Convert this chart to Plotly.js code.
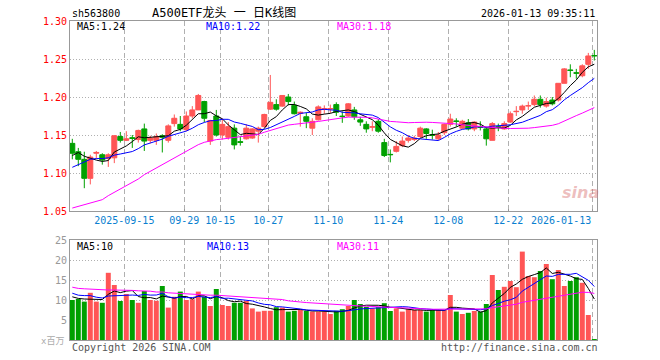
<!DOCTYPE html>
<html><head><meta charset="utf-8">
<script src="https://cdn.plot.ly/plotly-3.0.1.min.js"></script>
<style>html,body{margin:0;padding:0;background:#fff}#c{width:660px;height:360px}</style>
</head><body><div id="c"></div>
<script>
// ---- data ----
const openP  = [1.139,1.128,1.118,1.093,1.126,1.124,1.119,1.120,1.148,1.143,
                1.1465,1.144,1.158,1.143,1.143,1.149,1.143,1.165,1.164,1.157,
                1.175,1.183,1.194,1.142,1.175,1.150,1.147,1.159,1.1412,1.145,
                1.146,1.155,1.161,1.184,1.190,1.188,1.200,1.189,1.1785,1.174,
                1.159,1.170,1.1838,1.1842,1.190,1.1748,1.175,1.183,1.170,1.164,
                1.1603,1.168,1.140,1.1245,1.1285,1.136,1.143,1.144,1.148,1.158,
                1.1502,1.145,1.153,1.164,1.1684,1.159,1.166,1.158,1.1607,1.158,
                1.143,1.1607,1.158,1.167,1.1807,1.183,1.1882,1.190,1.197,1.188,
                1.196,1.196,1.218,1.2355,1.2318,1.228,1.243,1.2546];
const highP  = [1.145,1.133,1.128,1.124,1.129,1.126,1.126,1.150,1.154,1.155,
                1.150,1.157,1.165,1.149,1.152,1.151,1.164,1.177,1.175,1.181,
                1.188,1.204,1.195,1.170,1.183,1.172,1.167,1.164,1.148,1.164,
                1.159,1.161,1.178,1.229,1.197,1.202,1.204,1.194,1.181,1.179,
                1.172,1.189,1.189,1.190,1.193,1.181,1.192,1.187,1.174,1.168,
                1.168,1.171,1.145,1.131,1.142,1.148,1.150,1.149,1.161,1.159,
                1.157,1.154,1.165,1.178,1.172,1.170,1.171,1.168,1.168,1.161,
                1.167,1.165,1.168,1.181,1.188,1.190,1.194,1.202,1.202,1.199,
                1.200,1.218,1.238,1.243,1.237,1.243,1.258,1.262];
const lowP   = [1.118,1.109,1.080,1.085,1.119,1.111,1.108,1.113,1.140,1.142,
                1.133,1.140,1.129,1.139,1.137,1.127,1.140,1.161,1.155,1.155,
                1.172,1.183,1.167,1.137,1.148,1.144,1.144,1.131,1.136,1.144,
                1.145,1.140,1.160,1.183,1.182,1.187,1.189,1.177,1.161,1.159,
                1.150,1.169,1.178,1.179,1.175,1.166,1.174,1.170,1.162,1.153,
                1.155,1.153,1.121,1.114,1.127,1.134,1.140,1.142,1.146,1.145,
                1.144,1.143,1.150,1.161,1.161,1.158,1.156,1.155,1.156,1.136,
                1.143,1.155,1.157,1.166,1.175,1.178,1.183,1.188,1.186,1.186,
                1.189,1.194,1.218,1.226,1.224,1.226,1.237,1.248];
const closeP = [1.126,1.118,1.093,1.121,1.127,1.117,1.124,1.149,1.143,1.145,
                1.1455,1.156,1.142,1.146,1.148,1.147,1.162,1.172,1.158,1.175,
                1.183,1.202,1.172,1.169,1.150,1.164,1.161,1.137,1.1404,1.159,
                1.158,1.159,1.177,1.193,1.184,1.202,1.194,1.178,1.1798,1.168,
                1.168,1.187,1.1846,1.1848,1.180,1.1744,1.191,1.174,1.167,1.158,
                1.1608,1.155,1.123,1.1241,1.135,1.142,1.146,1.146,1.159,1.152,
                1.1498,1.150,1.164,1.171,1.168,1.168,1.158,1.167,1.1603,1.145,
                1.165,1.1603,1.165,1.178,1.1811,1.188,1.1886,1.197,1.190,1.194,
                1.191,1.218,1.237,1.235,1.2314,1.241,1.254,1.2542];
// volume, millions
const volume = [10.0,10.25,9.6,11.8,9.6,9.3,16.8,13.75,9.75,11.5,
                10.0,9.3,12.25,10.0,9.8,13.5,8.1,10.8,12.1,10.0,
                10.2,12.1,10.8,8.5,12.75,8.75,8.5,9.3,9.3,9.75,
                7.9,7.1,7.3,7.3,8.2,8.1,7.1,7.3,7.5,7.25,
                7.1,7.1,7.1,6.5,7.3,7.7,8.5,10.0,9.0,8.3,
                7.9,8.2,9.2,7.25,7.9,7.1,7.7,7.5,7.5,7.1,
                7.5,7.5,7.5,11.25,7.1,6.5,6.8,7.25,7.1,9.0,
                16.25,12.5,13.3,14.75,13.2,22.1,16.0,15.7,17.25,19.0,
                15.2,17.5,13.5,14.75,15.7,14.3,6.25,0.25];
// moving-average values before enough history is visible
const priceMa5Head  = [1.123,1.127,1.122,1.119];
const priceMa10Head = [1.1075,1.111,1.114,1.118,1.119,1.119,1.120,1.1235,1.125];
const priceMa30Head = [1.0539,1.0561,1.0579,1.0596,1.0618,1.0649,1.0702,1.0746,1.079,1.0833,
                       1.0877,1.0921,1.0978,1.1022,1.1066,1.111,1.1154,1.1197,1.1241,1.1285,
                       1.1329,1.1373,1.1404,1.1425,1.1439,1.1447,1.1456,1.1469,1.1474];
const volMa5Head  = [10.8,10.4,10.25,10.25];
const volMa10Head = [11.7,11.2,11.1,11.1,10.7,10.5,11.0,11.1,11.2];
const volMa30Head = [13.2,12.9,12.8,12.7,12.6,12.5,12.5,12.5,12.5,12.5,
                     12.4,12.3,12.3,12.2,12.0,12.0,11.8,11.7,11.6,11.5,
                     11.5,11.4,11.3,11.2,11.2,11.1,11.0,10.9,10.8];
const tickIdx    = [9,19,25,33,43,53,63,73,87];
const tickLabels = ['2025-09-15','09-29','10-15','10-27','11-10','11-24','12-08','12-22','2026-01-13'];
const priceTicks = [1.05,1.10,1.15,1.20,1.25,1.30];
const volTicks   = [0,5,10,15,20,25];
const volTickText= ['','5','10','15','20','25'];
const legendPrice = ['MA5:1.24','MA10:1.22','MA30:1.18'];
const legendVol   = ['MA5:10','MA10:13','MA30:11'];

// ---- derived ----
const idx = closeP.map((_, i) => i);
function ma(arr, n, head) {
  return arr.map((v, i) => {
    if (i < n - 1) return head[i];
    let s = 0; for (let k = i - n + 1; k <= i; k++) s += arr[k];
    return s / n;
  });
}
const RED = '#ff5555', GREEN = '#00a000';
const volColors = closeP.map((c, i) => c >= openP[i] ? RED : GREEN);
const gridX = tickIdx.map(v => v - 0.33);
const MONO = 'DejaVu Sans Mono, monospace';

const traces = [
  {type:'candlestick', x: idx, open: openP, high: highP, low: lowP, close: closeP,
   xaxis:'x', yaxis:'y', whiskerwidth: 0, hoverinfo:'skip',
   increasing:{line:{color:RED,width:1}, fillcolor:RED},
   decreasing:{line:{color:GREEN,width:1}, fillcolor:GREEN}},
  {type:'scatter', mode:'lines', x: idx, y: ma(closeP,5,priceMa5Head), xaxis:'x', yaxis:'y', line:{color:'#000',width:1}},
  {type:'scatter', mode:'lines', x: idx, y: ma(closeP,10,priceMa10Head), xaxis:'x', yaxis:'y', line:{color:'#0000ff',width:1}},
  {type:'scatter', mode:'lines', x: idx, y: ma(closeP,30,priceMa30Head), xaxis:'x', yaxis:'y', line:{color:'#ff00ff',width:1}},
  {type:'bar', x: idx, y: volume, xaxis:'x2', yaxis:'y2', width: 0.83, marker:{color: volColors, line:{width:0}}},
  {type:'scatter', mode:'lines', x: idx, y: ma(volume,5,volMa5Head), xaxis:'x2', yaxis:'y2', line:{color:'#000',width:1}},
  {type:'scatter', mode:'lines', x: idx, y: ma(volume,10,volMa10Head), xaxis:'x2', yaxis:'y2', line:{color:'#0000ff',width:1}},
  {type:'scatter', mode:'lines', x: idx, y: ma(volume,30,volMa30Head), xaxis:'x2', yaxis:'y2', line:{color:'#ff00ff',width:1}}
];

// pixel helpers for annotations (plot area 70..597 x 21..340)
const PX = x => (x - 70) / 527, PY = y => (340 - y) / 319;
function ann(text, x, y, xanchor, color, size, extra) {
  return Object.assign({text, x: PX(x), y: PY(y), xref:'paper', yref:'paper', xanchor, yanchor:'middle',
    showarrow:false, font:{family: MONO, size, color}}, extra || {});
}
const annotations = [
  ann('sh563800', 70, 13, 'left', '#000', 10),
  ann('A500ETF龙头 一 日K线图', 224, 13, 'center', '#000', 12, {font:{family:'DejaVu Sans Mono, Noto Sans CJK SC', size:12, color:'#000'}}),
  ann('2026-01-13 09:35:11', 597, 13, 'right', '#000', 10),
  ann(legendPrice[0], 75, 27, 'left', '#000', 10),
  ann(legendPrice[1], 204, 27, 'left', '#0000ff', 10),
  ann(legendPrice[2], 335, 27, 'left', '#ff00ff', 10),
  ann(legendVol[0], 75, 246, 'left', '#000', 10),
  ann(legendVol[1], 205, 246, 'left', '#0000ff', 10),
  ann(legendVol[2], 335, 246, 'left', '#ff00ff', 10),
  ann(tickLabels[tickLabels.length-1], 593, 221, 'right', '#0a7fd0', 10),
  ann('Copyright 2026 SINA.COM', 70, 347, 'left', '#555', 10),
  ann('http://finance.sina.com.cn', 600, 347, 'right', '#555', 10),
  ann('x百万', 66, 341, 'right', '#aaa', 9, {font:{family:'DejaVu Sans Mono, Noto Sans CJK SC', size:9, color:'#aaa'}}),
  ann('<i><b>sina</b></i>', 580, 192, 'center', 'rgba(215,110,110,0.45)', 16, {font:{family:'DejaVu Sans', size:16, color:'rgba(215,110,110,0.45)'}})
];

const xCommon = {range:[-0.383, 87.45], tickvals: gridX, showgrid:true, gridcolor:'#b0b0b0', griddash:'5px,3px', gridwidth:1,
  showline:true, mirror:true, linecolor:'#999', linewidth:1, zeroline:false, fixedrange:true};
const layout = {
  width:660, height:360, margin:{l:70, r:63, t:21, b:20}, paper_bgcolor:'#fff', plot_bgcolor:'#fff',
  showlegend:false, boxgap:0.17, boxgroupgap:0, bargap:0.17,
  xaxis: Object.assign({}, xCommon, {domain:[0,1], anchor:'y', ticktext: tickLabels.map((t,i)=> i===tickLabels.length-1 ? '' : t),
    ticks:'inside', ticklen:2, tickcolor:'#999', tickfont:{family:MONO, size:10, color:'#0a7fd0'}, rangeslider:{visible:false}}),
  yaxis: {domain:[(340-211)/319, 1], anchor:'x', range:[1.05,1.30], tickvals: priceTicks, tickformat:'.2f',
    tickfont:{family:MONO, size:10, color:'#ff0000'}, showgrid:true, gridcolor:'#b0b0b0', griddash:'1px,2px',
    showline:true, mirror:true, linecolor:'#999', zeroline:false, ticks:'', fixedrange:true},
  xaxis2: Object.assign({}, xCommon, {domain:[0,1], anchor:'y2', matches:'x', showticklabels:false, ticks:''}),
  yaxis2: {domain:[0, 100/319], anchor:'x2', range:[0,25], tickvals: volTicks, ticktext: volTickText,
    tickfont:{family:MONO, size:10, color:'#999'}, showgrid:true, gridcolor:'#b0b0b0', griddash:'1px,2px',
    showline:true, mirror:true, linecolor:'#999', zeroline:false, ticks:'', fixedrange:true},
  annotations
};
Plotly.newPlot('c', traces, layout, {staticPlot:true, displayModeBar:false});
</script>
</body></html>
